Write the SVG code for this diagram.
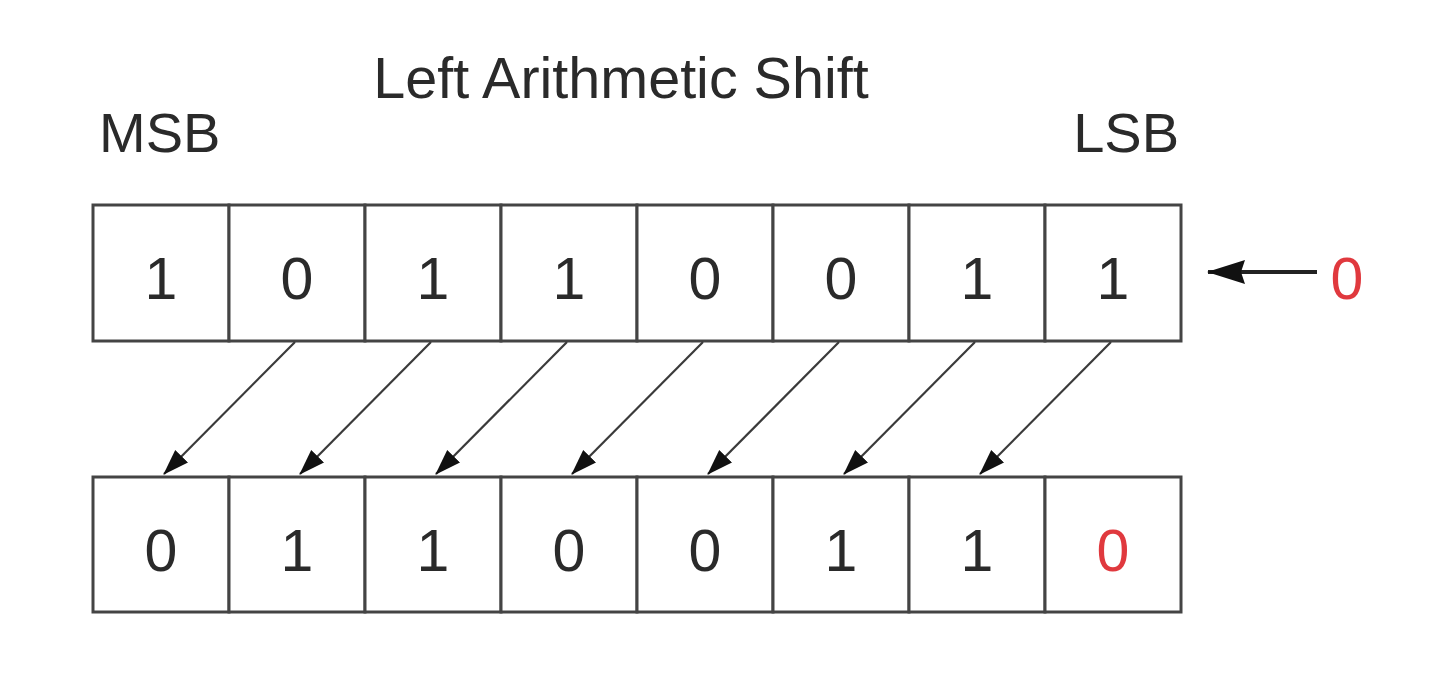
<svg xmlns="http://www.w3.org/2000/svg" width="1440" height="682" viewBox="0 0 1440 682">
<defs>
<style>
.cell{fill:#fff;stroke:#444;stroke-width:3}
.t{font-family:"Liberation Sans",Arial,sans-serif;fill:#2a2a2a}
.d{font-family:"Liberation Sans",Arial,sans-serif;font-size:59px;fill:#2a2a2a;text-anchor:middle}
.r{fill:#e0393e}
.c{stroke:#3a3a3a;stroke-width:2.2;fill:none}
.c2{stroke:#222;stroke-width:4;fill:none}
</style>
<marker id="ah" markerUnits="userSpaceOnUse" viewBox="0 0 26 20" markerWidth="26" markerHeight="20" refX="25" refY="10" orient="auto">
<path d="M0,1 L26,10 L0,19 Z" fill="#111"/>
</marker>
<marker id="ah2" markerUnits="userSpaceOnUse" viewBox="0 0 38 24" markerWidth="38" markerHeight="24" refX="37" refY="12" orient="auto">
<path d="M0,0 L38,12 L0,24 L4,12 Z" fill="#111"/>
</marker>
</defs>
<rect width="1440" height="682" fill="#fff"/>
<text class="t" x="621" y="98" font-size="57.5" text-anchor="middle">Left Arithmetic Shift</text>
<text class="t" x="99" y="152" font-size="56">MSB</text>
<text class="t" x="1179" y="152" font-size="56" text-anchor="end">LSB</text>

<g id="top-row">
<g id="t0"><rect class="cell" x="93" y="205" width="136" height="136"/><text class="d" x="161" y="299">1</text></g>
<g id="t1"><rect class="cell" x="229" y="205" width="136" height="136"/><text class="d" x="297" y="299">0</text></g>
<g id="t2"><rect class="cell" x="365" y="205" width="136" height="136"/><text class="d" x="433" y="299">1</text></g>
<g id="t3"><rect class="cell" x="501" y="205" width="136" height="136"/><text class="d" x="569" y="299">1</text></g>
<g id="t4"><rect class="cell" x="637" y="205" width="136" height="136"/><text class="d" x="705" y="299">0</text></g>
<g id="t5"><rect class="cell" x="773" y="205" width="136" height="136"/><text class="d" x="841" y="299">0</text></g>
<g id="t6"><rect class="cell" x="909" y="205" width="136" height="136"/><text class="d" x="977" y="299">1</text></g>
<g id="t7"><rect class="cell" x="1045" y="205" width="136" height="136"/><text class="d" x="1113" y="299">1</text></g>
</g>

<g id="bottom-row">
<g id="b0"><rect class="cell" x="93" y="477" width="136" height="135"/><text class="d" x="161" y="571">0</text></g>
<g id="b1"><rect class="cell" x="229" y="477" width="136" height="135"/><text class="d" x="297" y="571">1</text></g>
<g id="b2"><rect class="cell" x="365" y="477" width="136" height="135"/><text class="d" x="433" y="571">1</text></g>
<g id="b3"><rect class="cell" x="501" y="477" width="136" height="135"/><text class="d" x="569" y="571">0</text></g>
<g id="b4"><rect class="cell" x="637" y="477" width="136" height="135"/><text class="d" x="705" y="571">0</text></g>
<g id="b5"><rect class="cell" x="773" y="477" width="136" height="135"/><text class="d" x="841" y="571">1</text></g>
<g id="b6"><rect class="cell" x="909" y="477" width="136" height="135"/><text class="d" x="977" y="571">1</text></g>
<g id="b7"><rect class="cell" x="1045" y="477" width="136" height="135"/><text class="d r" x="1113" y="571">0</text></g>
</g>

<g id="input">
<text class="d r" x="1347" y="299">0</text>
</g>

<g id="connectors">
<line class="c" x1="295" y1="342" x2="164" y2="474" marker-end="url(#ah)"/>
<line class="c" x1="431" y1="342" x2="300" y2="474" marker-end="url(#ah)"/>
<line class="c" x1="567" y1="342" x2="436" y2="474" marker-end="url(#ah)"/>
<line class="c" x1="703" y1="342" x2="572" y2="474" marker-end="url(#ah)"/>
<line class="c" x1="839" y1="342" x2="708" y2="474" marker-end="url(#ah)"/>
<line class="c" x1="975" y1="342" x2="844" y2="474" marker-end="url(#ah)"/>
<line class="c" x1="1111" y1="342" x2="980" y2="474" marker-end="url(#ah)"/>
<line class="c2" x1="1317" y1="272" x2="1208" y2="272" marker-end="url(#ah2)"/>
</g>
</svg>
